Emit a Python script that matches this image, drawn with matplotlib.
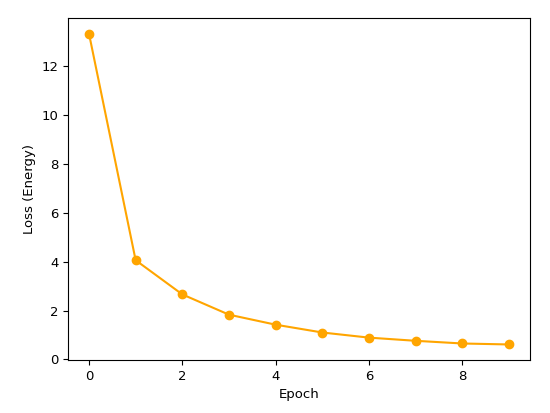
from matplotlib import pyplot as plt

epochs = list(range(10))
losses = [13.34, 4.06, 2.66, 1.83, 1.42, 1.10, 0.89, 0.76, 0.65, 0.61]

plt.rcParams['font.size'] = 9.5
fig = plt.figure(figsize=(5.5, 4.13), dpi=100)
ax = fig.add_axes([0.1236, 0.1283, 0.84, 0.828])
ax.plot(epochs, losses, marker='o', color='orange')
ax.set_xlabel('Epoch')
ax.set_ylabel('Loss (Energy)')
fig.savefig('out.png', dpi=100)
